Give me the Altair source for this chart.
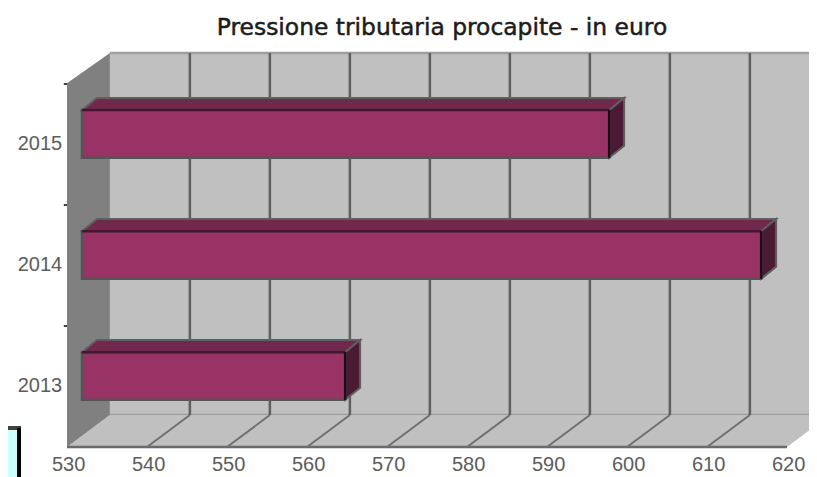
import altair as alt
import pandas as pd

# --- chart values
years = [2013, 2014, 2015]
values = [562.9, 614.9, 595.9]
x_ticks = [530, 540, 550, 560, 570, 580, 590, 600, 610, 620]
title_text = "Pressione tributaria procapite - in euro"

# --- projection constants of the fake 3-D box (scale units)
DX, DY = 5.36, 0.264          # depth of the box
DY_TOP = 0.249
BX, BY = 1.87, 0.10           # depth of a bar
HALF = 0.197                  # half height of a bar
FLOOR, TOP = 2012.413, 2015.42
W, H = 801, 469
XS = alt.Scale(domain=[522.625, 622.75], nice=False, zero=False)
YS = alt.Scale(domain=[2012.165, 2016.041], nice=False, zero=False)
X = lambda f: alt.X(f, type="quantitative", scale=XS, axis=None, stack=None)
Y = lambda f: alt.Y(f, type="quantitative", scale=YS, axis=None, stack=None)
X2 = lambda f: alt.X2(f)
Y2 = lambda f: alt.Y2(f)

GRID = "#5f5f5f"
EDGE = "#a0a0a0"
WALL = "#c0c0c0"

# --- box
wall = alt.Chart(pd.DataFrame([{"a": 530 + DX, "b": 640, "c": FLOOR + DY, "d": TOP + DY_TOP}])).mark_rect(
    color=WALL, clip=True).encode(X("a"), X2("b"), Y("c"), Y2("d"))
wall_edges = alt.Chart(pd.DataFrame([
    {"a": 530 + DX, "b": 640, "c": FLOOR + DY},
    {"a": 530 + DX, "b": 640, "c": TOP + DY_TOP},
])).mark_rule(color=EDGE, strokeWidth=2.5, clip=True).encode(X("a"), X2("b"), Y("c"))
grid = alt.Chart(pd.DataFrame([{"a": t + DX, "c": FLOOR + DY, "d": TOP + DY_TOP} for t in x_ticks[1:-1]])).mark_rule(
    color=GRID, strokeWidth=2.5, clip=True).encode(X("a"), Y("c"), Y2("d"))
left_wall = alt.Chart(pd.DataFrame([
    {"a": 530, "c": FLOOR, "d": TOP},
    {"a": 530 + DX, "c": FLOOR + DY, "d": TOP + DY_TOP},
])).mark_area(color="#808080").encode(X("a"), Y("c"), Y2("d"))
floor = alt.Chart(pd.DataFrame([
    {"a": 530, "b": 620, "c": FLOOR},
    {"a": 530 + DX, "b": 620 + DX, "c": FLOOR + DY},
])).mark_area(color=WALL, orient="horizontal", clip=True).encode(X("a"), X2("b"), Y("c"))
floor_lines = alt.Chart(pd.DataFrame([{"a": t, "b": t + DX, "c": FLOOR, "d": FLOOR + DY} for t in x_ticks[1:-1]])).mark_rule(
    color="#707070", strokeWidth=2).encode(X("a"), X2("b"), Y("c"), Y2("d"))
floor_front = alt.Chart(pd.DataFrame([{"a": 530, "b": 620, "c": FLOOR}])).mark_rule(
    color="#6a6a6a", strokeWidth=2.5).encode(X("a"), X2("b"), Y("c"))
y_marks = alt.Chart(pd.DataFrame([{"a": 529.6, "b": 530, "c": FLOOR + k} for k in range(1, 4)])).mark_rule(
    color="#404040", strokeWidth=2).encode(X("a"), X2("b"), Y("c"))

# --- bars
front_rows, top_rows, side_rows = [], [], []
for yr, v in zip(years, values):
    x0, x1 = 530 + BX, v + BX
    lo, hi = yr - HALF, yr + HALF
    front_rows.append({"a": x0, "b": x1, "c": lo, "d": hi, "yr": yr})
    top_rows += [
        {"a": x0, "b": x1, "c": hi, "yr": yr},
        {"a": x0 + BX, "b": x1 + BX, "c": hi + BY, "yr": yr},
    ]
    side_rows += [
        {"a": x1, "c": lo, "d": hi, "yr": yr},
        {"a": x1 + BX, "c": lo + BY, "d": hi + BY, "yr": yr},
    ]
front_df, top_df, side_df = map(pd.DataFrame, (front_rows, top_rows, side_rows))

bar_top = alt.Chart(top_df).mark_area(
    orient="horizontal", color="#72274d", stroke="#5f5f5f", strokeWidth=2
).encode(X("a"), X2("b"), Y("c"), detail="yr:N")
bar_side = alt.Chart(side_df).mark_area(
    color="#4d1a35", stroke="#5f5f5f", strokeWidth=2
).encode(X("a"), Y("c"), Y2("d"), detail="yr:N")
bar_front = alt.Chart(front_df).mark_rect(
    color="#993366", stroke="#555555", strokeWidth=2.5
).encode(X("a"), X2("b"), Y("c"), Y2("d"))
front_top = alt.Chart(front_df).mark_rule(color="#451630", strokeWidth=2.5).encode(X("a"), X2("b"), Y("d"))
front_right = alt.Chart(front_df).mark_rule(color="#1f0a16", strokeWidth=2.5).encode(X("b"), Y("c"), Y2("d"))

# --- text
x_lab = alt.Chart(pd.DataFrame({"t": x_ticks, "a": [t + 0.2 for t in x_ticks], "c": [2012.264] * len(x_ticks)})).mark_text(
    font="Liberation Sans", fontSize=20, color="#5c5c5c", baseline="middle", align="center"
).encode(X("a"), Y("c"), text="t:N")
y_lab = alt.Chart(pd.DataFrame({"t": years, "a": [529.4] * 3, "c": [y - 0.082 for y in years]})).mark_text(
    font="Liberation Sans", fontSize=20, color="#5c5c5c", baseline="middle", align="right"
).encode(X("a"), Y("c"), text="t:N")
title = alt.Chart(pd.DataFrame({"t": [title_text]})).mark_text(
    font="DejaVu Sans", fontSize=23.4, color="#1c1c1c", baseline="middle", align="center",
    stroke="#1c1c1c", strokeWidth=0.5
).encode(x=alt.value(434), y=alt.value(20), text="t:N")

# --- stray box at the lower left of the screenshot
stray = alt.Chart(pd.DataFrame({"k": [1]})).mark_rect(color="#ccffff").encode(
    x=alt.value(0), x2=alt.value(10), y=alt.value(420), y2=alt.value(469))
stray_top = alt.Chart(pd.DataFrame({"k": [1]})).mark_rule(color="#404040", strokeWidth=4).encode(
    x=alt.value(0), x2=alt.value(13), y=alt.value(420))
stray_right = alt.Chart(pd.DataFrame({"k": [1]})).mark_rule(color="#000000", strokeWidth=4).encode(
    x=alt.value(11), y=alt.value(420), y2=alt.value(469))

chart = alt.layer(
    wall, wall_edges, grid, floor, left_wall, floor_lines, floor_front, y_marks,
    bar_top, bar_side, bar_front, front_top, front_right,
    x_lab, y_lab, title, stray, stray_top, stray_right,
).properties(
    width=W, height=H, padding=0, autosize=alt.AutoSizeParams(type="none")
).configure_view(stroke=None)

chart.save("out.html", embed_options={"renderer": "svg", "actions": False})
